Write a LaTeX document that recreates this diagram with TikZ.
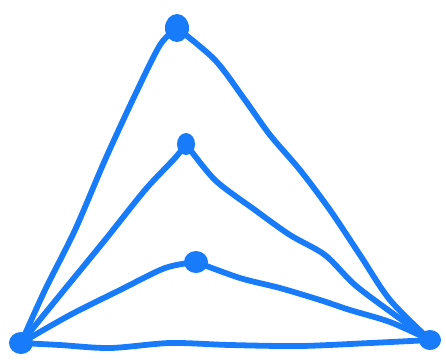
\documentclass[tikz,border=0pt]{standalone}
\usepackage{xcolor}
\usepackage{tikz}
\definecolor{inkblue}{RGB}{24,124,250}
\tikzset{
  stroke/.style={inkblue, line width=3.3pt, line cap=round, line join=round},
  blob/.style={fill=inkblue}
}

\begin{document}
\begin{tikzpicture}[x=0.02cm, y=-0.02cm]
    \useasboundingbox (0,0) rectangle (446,360);
    % corner points and apexes
    \coordinate (left) at (21,343);
    \coordinate (right) at (430,340);
    \coordinate (topA) at (177,28);
    \coordinate (midA) at (186,144);
    \coordinate (lowA) at (196,262);
    % base
    \draw[stroke] plot[smooth] coordinates {(left) (60,345) (110,348) (170,343) (230,345) (300,346) (370,343) (right)};
    % outer triangle
    \draw[stroke] plot[smooth] coordinates {(left) (45,290) (75,230) (105,160) (135,95) (160,45) (topA)};
    \draw[stroke] plot[smooth] coordinates {(topA) (215,60) (245,100) (270,135) (300,170) (330,210) (360,255) (390,300) (right)};
    % middle triangle
    \draw[stroke] plot[smooth] coordinates {(left) (60,295) (105,240) (145,190) (175,158) (midA)};
    \draw[stroke] plot[smooth] coordinates {(midA) (215,180) (255,210) (290,235) (325,255) (355,285) (395,315) (right)};
    % inner triangle
    \draw[stroke] plot[smooth] coordinates {(left) (70,315) (120,290) (165,268) (lowA)};
    \draw[stroke] plot[smooth] coordinates {(lowA) (240,278) (280,288) (320,300) (350,310) (390,322) (right)};
    % dots
    \fill[blob] (topA) ellipse (12 and 14);
    \fill[blob] (midA) ellipse (9 and 11);
    \fill[blob] (lowA) ellipse (12 and 11);
    \fill[blob] (left) ellipse (12 and 11);
    \fill[blob] (right) ellipse (11 and 10);
\end{tikzpicture}
\end{document}
